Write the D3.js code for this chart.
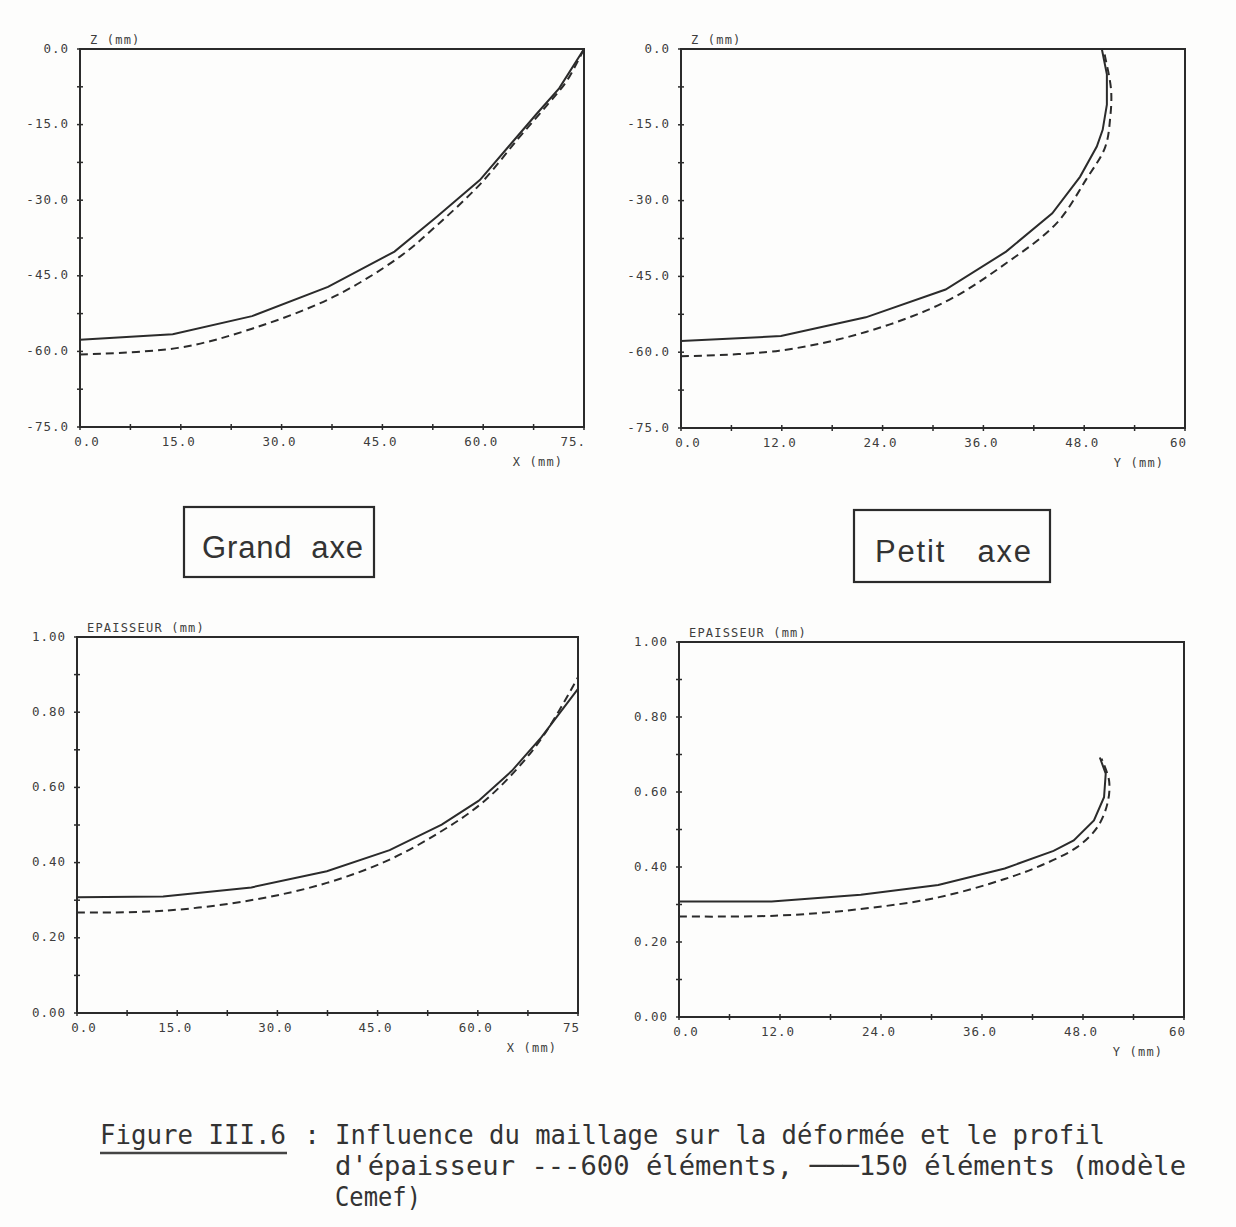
<!DOCTYPE html>
<html><head><meta charset="utf-8">
<script src="https://cdn.jsdelivr.net/npm/d3@7"></script>
<style>body{margin:0;background:#fff}svg{display:block}</style>
</head><body><svg id="c" width="1236" height="1227"></svg>
<script>
// ---------- DATA ----------
// Grand axe : deformée Z(X)
const gaDefX150 = [0, 13.8, 25.6, 36.9, 46.8, 53.1, 59.5, 64.2, 68.0, 71.3, 75];
const gaDefZ150 = [-57.7, -56.6, -53.0, -47.2, -40.2, -33.3, -26.0, -18.7, -12.8, -7.8, 0];
const gaDefX600 = [0, 14.6, 25.6, 37.7, 47.6, 53.1, 59.7, 65.2, 69.6, 72.4, 75];
const gaDefZ600 = [-60.6, -59.3, -55.5, -49.2, -41.2, -35.0, -26.6, -17.8, -11.0, -6.4, 0];
// Petit axe : deformée Z(Y)
const paDefY150 = [0, 11.9, 22.0, 31.5, 38.7, 44.2, 47.5, 49.5, 50.2, 50.7, 50.7, 50.1];
const paDefZ150 = [-57.8, -56.8, -53.1, -47.6, -40.1, -32.5, -25.3, -19.3, -16.0, -11.0, -5.0, 0];
const paDefY600 = [0, 11.7, 22.0, 31.5, 38.7, 44.7, 48.2, 50.5, 51.1, 51.2, 50.5, 50.3];
const paDefZ600 = [-60.8, -59.7, -56.0, -50.0, -42.4, -34.5, -25.9, -19.4, -13.5, -8.1, -1.6, 0];
// Grand axe : epaisseur(X)
const gaEpX150 = [0, 12.9, 26.1, 37.4, 46.8, 54.6, 60.1, 65.1, 69.5, 75];
const gaEpE150 = [0.308, 0.310, 0.334, 0.377, 0.433, 0.501, 0.564, 0.644, 0.733, 0.862];
const gaEpX600 = [0, 13.1, 26.4, 37.4, 46.8, 54.6, 60.4, 65.6, 70.0, 75];
const gaEpE600 = [0.267, 0.272, 0.301, 0.346, 0.408, 0.484, 0.555, 0.644, 0.742, 0.893];
// Petit axe : epaisseur(Y)
const paEpY150 = [0, 11.0, 21.6, 30.8, 38.7, 44.5, 46.9, 49.3, 50.5, 50.7, 50.0];
const paEpE150 = [0.308, 0.308, 0.326, 0.352, 0.396, 0.443, 0.471, 0.524, 0.586, 0.649, 0.692];
const paEpY600 = [0, 11.4, 21.6, 30.8, 38.7, 43.0, 47.3, 49.7, 50.9, 51.1, 50.2];
const paEpE600 = [0.268, 0.270, 0.288, 0.319, 0.368, 0.404, 0.453, 0.506, 0.569, 0.630, 0.689];

// tick labels
const xTicks75 = [0, 15, 30, 45, 60, 75];
const xLabels75top = ["0.0", "15.0", "30.0", "45.0", "60.0", "75."];
const xLabels75bot = ["0.0", "15.0", "30.0", "45.0", "60.0", "75"];
const xTicks60 = [0, 12, 24, 36, 48, 60];
const xLabels60 = ["0.0", "12.0", "24.0", "36.0", "48.0", "60"];
const zTicks = [0, -15, -30, -45, -60, -75];
const zLabels = ["0.0", "-15.0", "-30.0", "-45.0", "-60.0", "-75.0"];
const eTicks = [0, 0.2, 0.4, 0.6, 0.8, 1.0];
const eLabels = ["0.00", "0.20", "0.40", "0.60", "0.80", "1.00"];

const boxLabels = ["Grand  axe", "Petit   axe"];
const captionHead = "Figure III.6";
const captionLines = ["Influence du maillage sur la déformée et le profil",
                      "d'épaisseur ---600 éléments, ───150 éléments (modèle",
                      "Cemef)"];

// ---------- DRAW ----------
const INK = "#2b2b2b", TXT = "#3d3d3d";
const svg = d3.select("#c");
svg.append("rect").attr("width", 1236).attr("height", 1227).attr("fill", "#fdfdfc");

const panels = [
  {x0: 80, x1: 584, y0: 49, y1: 427, xd: [0, 75], yd: [-75, 0], xt: xTicks75, xl: xLabels75top, xm: 7.5,
   yt: zTicks, yl: zLabels, ym: 7.5, yTitle: "Z (mm)", xTitle: "X (mm)",
   s150: [gaDefX150, gaDefZ150], s600: [gaDefX600, gaDefZ600]},
  {x0: 681, x1: 1185, y0: 49, y1: 428, xd: [0, 60], yd: [-75, 0], xt: xTicks60, xl: xLabels60, xm: 6,
   yt: zTicks, yl: zLabels, ym: 7.5, yTitle: "Z (mm)", xTitle: "Y (mm)",
   s150: [paDefY150, paDefZ150], s600: [paDefY600, paDefZ600]},
  {x0: 77, x1: 578, y0: 637, y1: 1013, xd: [0, 75], yd: [0, 1], xt: xTicks75, xl: xLabels75bot, xm: 7.5,
   yt: eTicks, yl: eLabels, ym: 0.1, yTitle: "EPAISSEUR (mm)", xTitle: "X (mm)",
   s150: [gaEpX150, gaEpE150], s600: [gaEpX600, gaEpE600]},
  {x0: 679, x1: 1184, y0: 642, y1: 1017, xd: [0, 60], yd: [0, 1], xt: xTicks60, xl: xLabels60, xm: 6,
   yt: eTicks, yl: eLabels, ym: 0.1, yTitle: "EPAISSEUR (mm)", xTitle: "Y (mm)",
   s150: [paEpY150, paEpE150], s600: [paEpY600, paEpE600]}
];

const monoFont = "'DejaVu Sans Mono', 'Liberation Mono', monospace";

panels.forEach(p => {
  const x = d3.scaleLinear().domain(p.xd).range([p.x0, p.x1]);
  const y = d3.scaleLinear().domain(p.yd).range([p.y1, p.y0]);
  const g = svg.append("g");

  // minor+major ticks crossing the axes
  const xm = d3.range(p.xd[0], p.xd[1] + 1e-9, p.xm);
  g.selectAll(null).data(xm).join("line")
    .attr("x1", d => x(d)).attr("x2", d => x(d))
    .attr("y1", p.y1 - 3).attr("y2", p.y1 + 3)
    .attr("stroke", INK).attr("stroke-width", 1.5);
  const ym = d3.range(0, 10.5).map(i => p.yd[0] + i * p.ym).filter(v => v <= p.yd[1] + 1e-9);
  g.selectAll(null).data(ym).join("line")
    .attr("y1", d => y(d)).attr("y2", d => y(d))
    .attr("x1", p.x0 - 3).attr("x2", p.x0 + 3)
    .attr("stroke", INK).attr("stroke-width", 1.5);

  // frame
  g.append("rect").attr("x", p.x0).attr("y", p.y0)
    .attr("width", p.x1 - p.x0).attr("height", p.y1 - p.y0)
    .attr("fill", "none").attr("stroke", INK).attr("stroke-width", 2);

  // x tick labels
  g.selectAll(null).data(p.xt).join("text")
    .attr("x", (d, i) => i === 0 ? x(d) + 7 : (i === p.xt.length - 1 ? x(d) + 2 : x(d) - 2))
    .attr("y", p.y1 + 15)
    .attr("text-anchor", (d, i) => i === p.xt.length - 1 ? "end" : "middle")
    .attr("dominant-baseline", "middle")
    .attr("font-family", monoFont).attr("font-size", 12.5).attr("letter-spacing", 1)
    .attr("fill", TXT)
    .text((d, i) => p.xl[i]);

  // y tick labels
  g.selectAll(null).data(p.yt).join("text")
    .attr("x", p.x0 - 11).attr("y", d => y(d))
    .attr("text-anchor", "end").attr("dominant-baseline", "middle")
    .attr("font-family", monoFont).attr("font-size", 12.5).attr("letter-spacing", 1)
    .attr("fill", TXT)
    .text((d, i) => p.yl[i]);

  // axis titles
  g.append("text").attr("x", p.x0 + 10).attr("y", p.y0 - 9)
    .attr("dominant-baseline", "middle")
    .attr("font-family", monoFont).attr("font-size", 12).attr("letter-spacing", 1.2)
    .attr("fill", TXT).text(p.yTitle);
  g.append("text").attr("x", p.x1 - 46).attr("y", p.y1 + 35)
    .attr("text-anchor", "middle").attr("dominant-baseline", "middle")
    .attr("font-family", monoFont).attr("font-size", 12).attr("letter-spacing", 1.2)
    .attr("fill", TXT).text(p.xTitle);

  // curves
  const line = d3.line().x(d => x(d[0])).y(d => y(d[1]));
  const pts150 = p.s150[0].map((v, i) => [v, p.s150[1][i]]);
  const pts600 = p.s600[0].map((v, i) => [v, p.s600[1][i]]);
  g.append("path").attr("d", line.curve(d3.curveLinear)(pts150))
    .attr("fill", "none").attr("stroke", INK).attr("stroke-width", 2);
  g.append("path").attr("d", line.curve(d3.curveCatmullRom.alpha(0.5))(pts600))
    .attr("fill", "none").attr("stroke", INK).attr("stroke-width", 2)
    .attr("stroke-dasharray", "8,5");
});

// labelled boxes
const boxes = [
  {x: 184, y: 507, w: 190, h: 70, tx: 202, ty: 558, tl: 161},
  {x: 854, y: 510, w: 196, h: 72, tx: 875, ty: 562, tl: 156}
];
boxes.forEach((b, i) => {
  svg.append("rect").attr("x", b.x).attr("y", b.y).attr("width", b.w).attr("height", b.h)
    .attr("fill", "none").attr("stroke", INK).attr("stroke-width", 2.2);
  svg.append("text").attr("x", b.tx).attr("y", b.ty)
    .attr("font-family", "'Liberation Sans', Arial, sans-serif").attr("font-size", 31)
    .attr("fill", "#333").style("white-space", "pre")
    .attr("textLength", b.tl).attr("lengthAdjust", "spacing")
    .text(boxLabels[i]);
});

// caption
const cap = svg.append("g").attr("font-family", monoFont).attr("font-size", 27).attr("fill", "#333");
cap.append("text").attr("x", 100).attr("y", 1144)
  .attr("textLength", 186).attr("lengthAdjust", "spacingAndGlyphs").text(captionHead);
cap.append("line").attr("x1", 100).attr("x2", 287).attr("y1", 1153).attr("y2", 1153)
  .attr("stroke", "#444").attr("stroke-width", 2.5);
cap.append("text").attr("x", 304).attr("y", 1144).text(":");
const capW = [770, 851, 86];
captionLines.forEach((t, i) => {
  cap.append("text").attr("x", 335).attr("y", 1144 + i * 31)
    .attr("textLength", capW[i]).attr("lengthAdjust", "spacingAndGlyphs").text(t);
});
</script>
</body></html>
